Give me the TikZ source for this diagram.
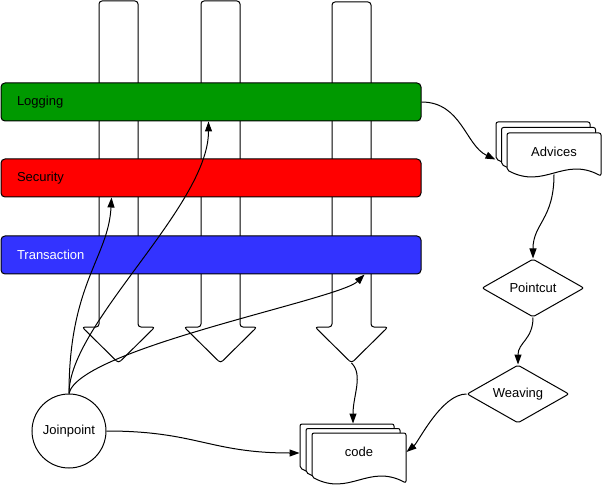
\documentclass[tikz,border=0pt]{standalone}
\usepackage{fontspec}
\setmainfont{Liberation Sans}
\usetikzlibrary{arrows.meta,positioning,calc,shapes.geometric}
\definecolor{loggreen}{RGB}{0,153,0}
\definecolor{secred}{RGB}{255,0,0}
\definecolor{txblue}{RGB}{51,51,255}
% one sheet of a document stack: left x, top y, width, height
\newcommand{\docsheet}[4]{%
  \draw[sheet] (#1,#2) -- (#1+#3,#2) -- (#1+#3,#2+#4+6)
    .. controls (#1+0.6*#3,#2+#4-14) and (#1+0.4*#3,#2+#4+20) .. (#1,#2+#4) -- cycle;}

\begin{document}
\begin{tikzpicture}[x=1pt,y=-1pt,line width=1pt,
    font=\fontsize{13}{15}\selectfont,
    bar/.style={draw,rounded corners=4pt,minimum height=38pt,text width=388pt,
                inner xsep=16pt,align=left},
    flow/.style={draw,fill=white,rounded corners=3pt},
    sheet/.style={draw,fill=white,rounded corners=2pt},
    decide/.style={draw,fill=white,diamond,aspect=1.76,minimum width=102pt,
                   minimum height=58pt,inner sep=0pt,rounded corners=2pt},
    conn/.style={-{Triangle[length=10pt,width=7pt]}}]
  \useasboundingbox (0,0) rectangle (602,486);
  % big downward arrows
  \foreach \cx/\tp/\nm in {118.5/1/tip1, 220.5/1/tip2, 351.5/2/tip3} {
    \draw[flow] (\cx-19.5,\tp) -- (\cx+19.5,\tp) -- (\cx+19.5,327) -- (\cx+36.5,327)
      -- (\cx,363) -- (\cx-36.5,327) -- (\cx-19.5,327) -- cycle;
    \coordinate (\nm) at (\cx,363);
  }
  % concerns
  \node[bar,fill=loggreen] (logging) at (211,102) {Logging};
  \node[bar,fill=secred] (security) at (211,178) {Security};
  \node[bar,fill=txblue,text=white] (transaction) at (211,255) {Transaction};
  % document stacks
  \foreach \k in {2,1,0} {\docsheet{507-5.5*\k}{133-5.5*\k}{94}{37}}
  \node[minimum width=94pt,minimum height=37pt] (advices) at (554,151.5) {Advices};
  \foreach \k in {2,1,0} {\docsheet{312-6*\k}{433-4.5*\k}{94}{44}}
  \node[minimum width=94pt,minimum height=38pt] (code) at (359,452) {code};
  \node[decide] (pointcut) at (533,288) {Pointcut};
  \node[decide] (weaving) at (518,394) {Weaving};
  \node[draw,circle,minimum size=74pt,inner sep=0pt] (joinpoint) at (69,431) {Joinpoint};
  % connectors
  \draw[conn] (logging.east) .. controls +(40,0) and +(-30,-14) .. ($(advices.west)+(-11,8)$);
  \draw[conn] ($(advices.south)+(0,4)$) .. controls +(0,45) and +(0,-35) .. (pointcut.north);
  \draw[conn] (pointcut.south) .. controls +(0,22) and +(0,-22) .. (weaving.north);
  \draw[conn] (weaving.west) .. controls +(-25,0) and +(12,-10) .. (code.east);
  \draw[conn] (tip3) .. controls +(12,12) and +(0,-28) .. ($(code.north)+(-6,-9)$);
  \draw[conn] (joinpoint.east) .. controls +(90,0) and +(-90,0) .. ($(code.west)+(-12,1)$);
  \draw[conn] (joinpoint.north) .. controls +(0,-110) and +(-3,60) .. ($(security.south west)+(111,0)$);
  \draw[conn] (joinpoint.north) .. controls +(0,-70) and +(0,85) .. ($(logging.south west)+(208,0)$);
  \draw[conn] (joinpoint.north) .. controls +(10,-45) and +(-25,25) .. ($(transaction.south west)+(364,0)$);
\end{tikzpicture}
\end{document}
